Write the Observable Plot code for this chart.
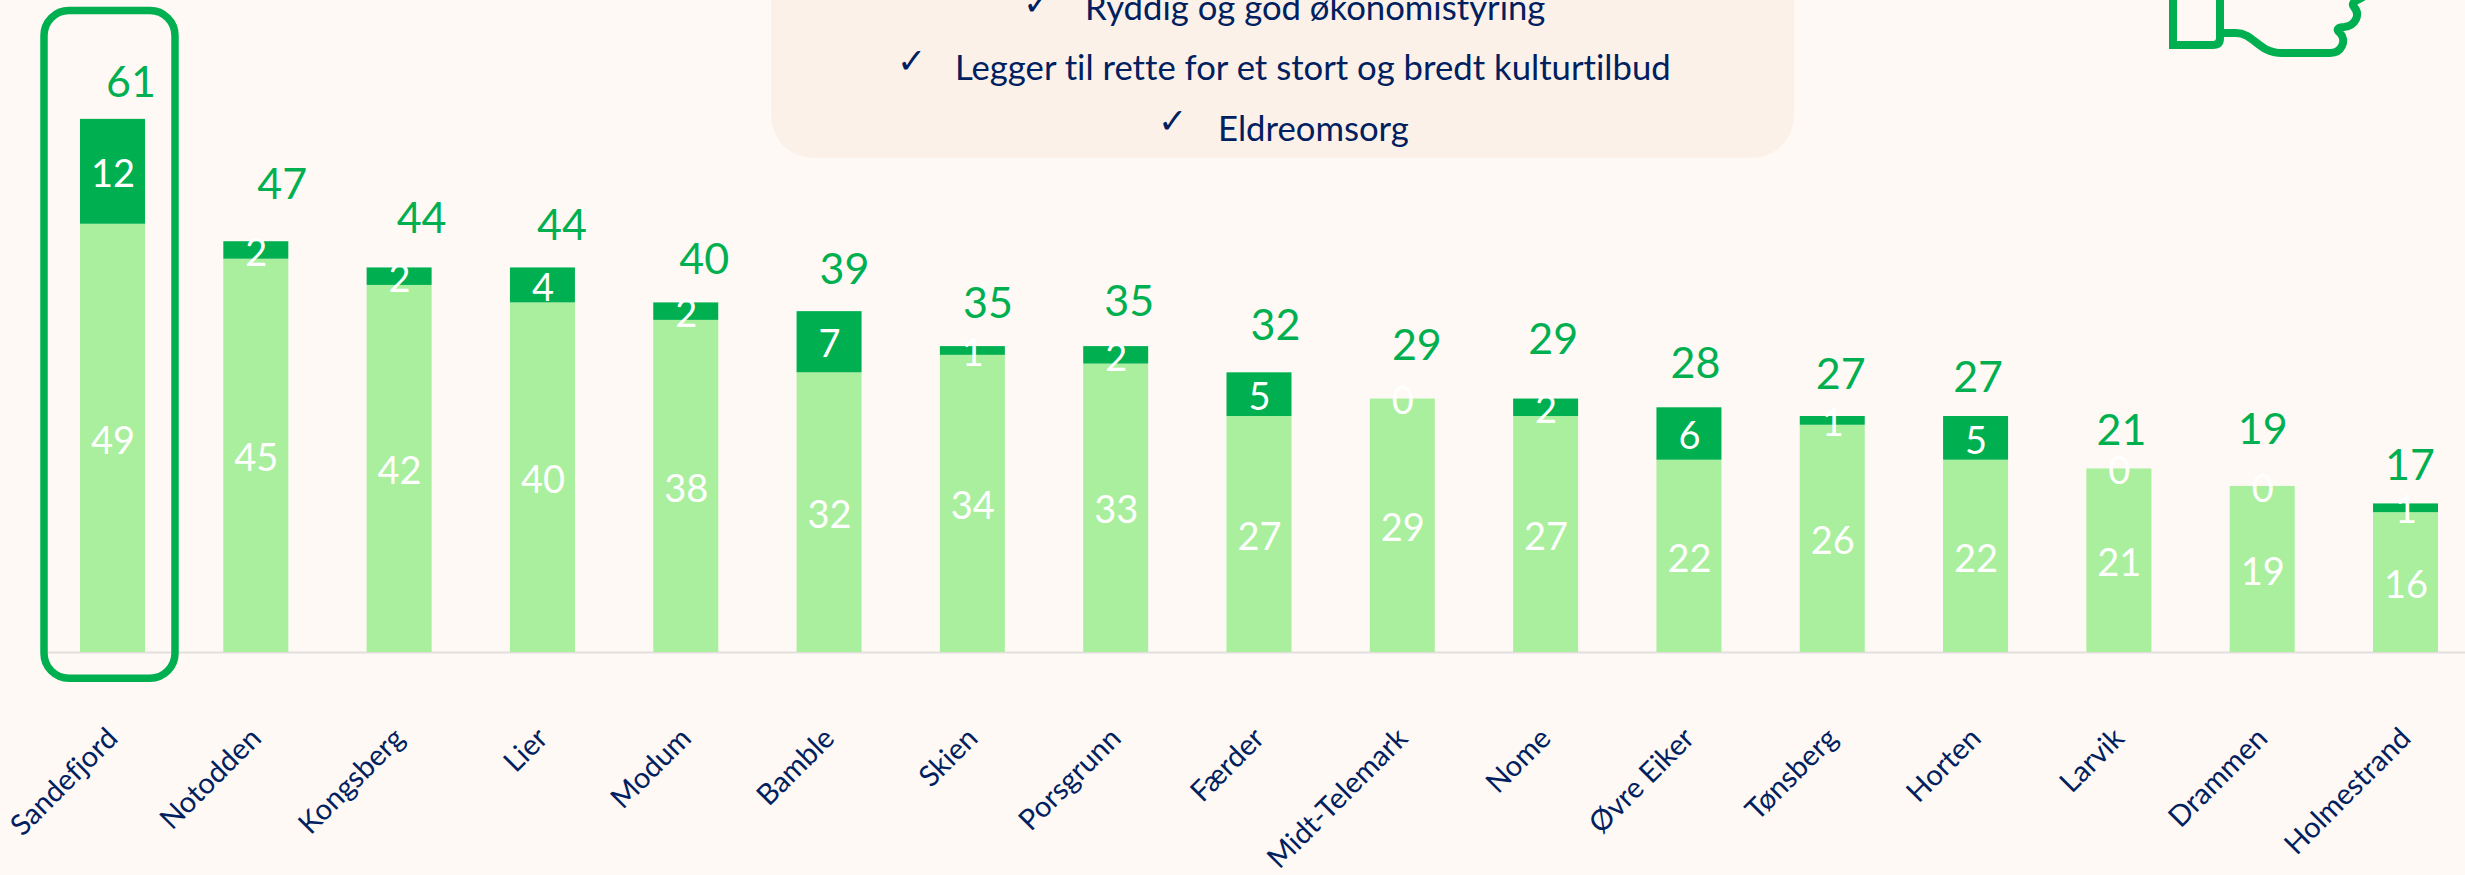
<!DOCTYPE html>
<html lang="no">
<head>
<meta charset="utf-8">
<script src="https://cdn.jsdelivr.net/npm/d3@7"></script>
<script src="https://cdn.jsdelivr.net/npm/@observablehq/plot@0.6"></script>
<style>
  html, body { margin: 0; padding: 0; background: #FEF9F5; }
  #stage { position: relative; width: 2465px; height: 875px; overflow: hidden; background: #FEF9F5; font-family: Lato, sans-serif; font-variant-ligatures: none; }
  #panel { position: absolute; left: 771px; top: -60px; width: 1023px; height: 218px; background: #FBF1E9; border-radius: 0 0 42px 42px; }
  .line { position: absolute; white-space: nowrap; color: #002060; font-size: 34.7px; line-height: 44px; font-family: Lato, sans-serif; }
  .check { position: absolute; color: #002060; font-size: 35px; line-height: 30px; font-family: "DejaVu Sans", sans-serif; }
  #icon { position: absolute; left: 0; top: 0; }
  #chart { position: absolute; left: 0; top: 0; }
</style>
</head>
<body>
<div id="stage">
  <div id="panel"></div>
  <span class="check" style="left:1023px;top:-12px">✓</span>
  <span class="line" style="left:1085px;top:-15px">Ryddig og god økonomistyring</span>
  <span class="check" style="left:897px;top:46px">✓</span>
  <span class="line" style="left:955px;top:45px">Legger til rette for et stort og bredt kulturtilbud</span>
  <span class="check" style="left:1158px;top:106px">✓</span>
  <span class="line" style="left:1218px;top:106px">Eldreomsorg</span>
  <svg id="icon" width="2465" height="875" fill="none" stroke="#00B050" stroke-width="8">
    <path d="M2173 -5V45H2213Q2220 45 2220 38V-5"/>
    <path d="M2224 33H2236C2254 33 2258 53 2282 53H2330C2342 53 2347 40 2340 33C2335 29 2339 27 2344 27C2355 26 2361 15 2354 7C2350 2 2358 0 2363 -3"/>
  </svg>
  <div id="chart"></div>
</div>
<script>
const kommuner = ["Sandefjord","Notodden","Kongsberg","Lier","Modum","Bamble","Skien","Porsgrunn","Færder","Midt-Telemark","Nome","Øvre Eiker","Tønsberg","Horten","Larvik","Drammen","Holmestrand"];
const lys   = [49,45,42,40,38,32,34,33,27,29,27,22,26,22,21,19,16];
const mork  = [12,2,2,4,2,7,1,2,5,0,2,6,1,5,0,0,1];
const total = [61,47,44,44,40,39,35,35,32,29,29,28,27,27,21,19,17];
// hand-placed total labels in the original: pixel nudges from the top of each bar
const totalDx = [18,26,22,19,18,15,15,13,16,14,7,6,8,2,2,0,4];
const totalDy = [-36,-56,-49,-42,-43,-41,-42,-44,-47,-53,-59,-44,-41,-38,-38,-56,-38];

const LIGHT = "#A9EF9D", DARK = "#00B050", NAVY = "#002060";
const rows = kommuner.flatMap((k,i) => [
  {k, serie:"lys", v:lys[i]},
  {k, serie:"mork", v:mork[i]}
]);
const stackOpts = {x:"k", y:"v", z:"serie", order:["lys","mork"]};

const plot = Plot.plot({
  width: 2465, height: 875,
  marginTop: 0, marginBottom: 223, marginLeft: 47, marginRight: 0,
  style: {background:"transparent", overflow:"visible"},
  x: {domain: kommuner, range:[80,2438], paddingInner:0.5465, paddingOuter:0, round:false, label:null},
  y: {domain:[0,74.6], label:null, axis:null},
  color: {domain:["lys","mork"], range:[LIGHT,DARK]},
  marks: [
    Plot.ruleY([0], {stroke:"#E2E0DE", strokeWidth:2}),
    Plot.barY(rows, {...stackOpts, fill:"serie"}),
    Plot.text(rows, Plot.stackY({...stackOpts, text:d=>String(d.v),
      fill:"white", fontSize:38, fontFamily:"Lato, sans-serif", dy:3})),
    ...kommuner.map((k,i) => Plot.text([{k, t:total[i]}], {
      x:"k", y:"t", text:d=>String(d.t), dx:totalDx[i], dy:totalDy[i],
      fill:DARK, fontSize:43, fontFamily:"Lato, sans-serif"
    })),
    Plot.barY(["Sandefjord"], {x:d=>d, y1:()=>-3.0, y2:()=>73.4, insetLeft:-36, insetRight:-30, rx:25,
      fill:"none", stroke:DARK, strokeWidth:7.5}),
    Plot.axisX({tickRotate:-45, tickSize:0, tickPadding:81, fontSize:29,
      fontFamily:"Lato, sans-serif", fill:NAVY, label:null})
  ]
});
document.getElementById("chart").appendChild(plot);
</script>
</body>
</html>
